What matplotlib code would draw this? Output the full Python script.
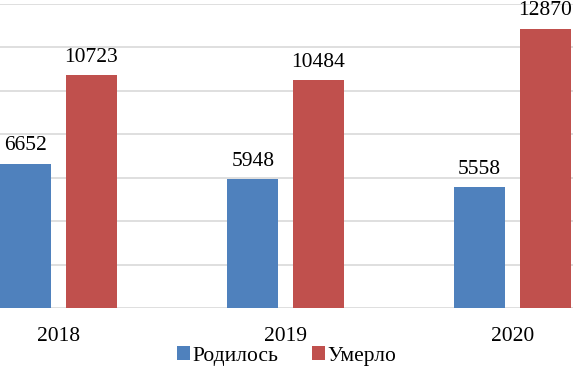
import numpy as np
import matplotlib.pyplot as plt

FONT = 'Liberation Serif'
plt.rcParams['font.family'] = [FONT, 'DejaVu Serif']

# data
years = ['2018', '2019', '2020']
born = [6652, 5948, 5558]
died = [10723, 10484, 12870]

fig = plt.figure(figsize=(5.73, 3.68), dpi=100)
ax = fig.add_axes([0, 1 - 308/368, 1, 304/368])

x = np.arange(len(years))
width = 0.225
off = 0.144

b1 = ax.bar(x - off, born, width, color='#4F81BD', label='Родилось', zorder=3)
b2 = ax.bar(x + off, died, width, color='#C0504D', label='Умерло', zorder=3)

# value labels above the bars
for bars, vals in [(b1, born), (b2, died)]:
    for rect, v in zip(bars, vals):
        ax.annotate(str(v), (rect.get_x() + rect.get_width()/2, v),
                    xytext=(0, 6), textcoords='offset points',
                    ha='center', va='bottom', fontsize=15.5, family=FONT)

ax.set_ylim(0, 14000)
ax.set_xlim(-0.258, 2.267)
ax.set_yticks(np.arange(0, 14001, 2000))
ax.yaxis.grid(True, color='#D9D9D9', linewidth=1.2, zorder=0)
ax.tick_params(left=False, labelleft=False, bottom=False)
ax.set_xticks(x)
ax.set_xticklabels(years, fontsize=15.5, family=FONT)
ax.tick_params(axis='x', pad=10)
for s in ax.spines.values():
    s.set_visible(False)

fig.legend(handles=[b1, b2], loc='center', bbox_to_anchor=(0.5, 1 - 356/368),
           ncol=2, frameon=False, prop={'family': FONT, 'size': 15.5},
           handlelength=0.6, handleheight=0.6,
           handletextpad=0.12, columnspacing=1.55, borderpad=0)

plt.savefig('out.png', dpi=100)
